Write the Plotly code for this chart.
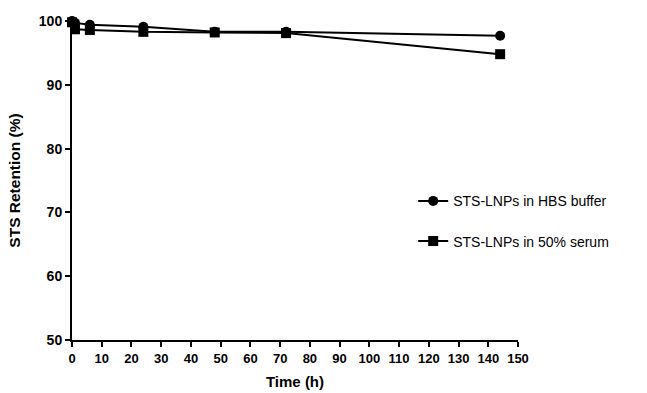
import plotly.graph_objects as go

time_h = [0, 1, 6, 24, 48, 72, 144]
hbs_buffer = [100.0, 99.7, 99.4, 99.1, 98.3, 98.3, 97.7]
serum_50 = [99.8, 98.7, 98.6, 98.3, 98.2, 98.1, 94.8]
x_ticks = list(range(0, 151, 10))
y_ticks = [50, 60, 70, 80, 90, 100]

fig = go.Figure()
fig.add_trace(go.Scatter(
    x=time_h, y=hbs_buffer, mode="lines+markers", name="STS-LNPs in HBS buffer",
    line=dict(color="black", width=2), marker=dict(symbol="circle", size=10, color="black"),
    cliponaxis=False, legendgroup="a"))
fig.add_trace(go.Scatter(
    x=time_h, y=serum_50, mode="lines+markers", name="STS-LNPs in 50% serum",
    line=dict(color="black", width=2), marker=dict(symbol="square", size=10, color="black"),
    cliponaxis=False, legendgroup="b"))

axis_common = dict(showline=True, linecolor="black", linewidth=2, ticks="outside",
                   ticklen=5, tickwidth=2, tickcolor="black", showgrid=False, zeroline=False,
                   automargin=False)

fig.update_layout(
    width=647, height=393,
    margin=dict(l=72, r=129, t=21, b=53),
    plot_bgcolor="white", paper_bgcolor="white",
    font=dict(family="Liberation Sans, Arial", color="black"),
    xaxis=dict(range=[0, 150], tickvals=x_ticks,
               tickfont=dict(size=13, color="black", weight="bold"),
               title=dict(text="<b>Time (h)</b>", font=dict(size=15), standoff=12),
               **axis_common),
    yaxis=dict(range=[50, 100], tickvals=y_ticks,
               tickfont=dict(size=14, color="black", weight="bold"),
               title=dict(text="<b>STS Retention (%)</b>", font=dict(size=15.5), standoff=14),
               **axis_common),
    legend=dict(x=0.765, y=0.485, xanchor="left", yanchor="top", tracegroupgap=19,
                font=dict(size=14, color="black"), bgcolor="rgba(0,0,0,0)"),
    showlegend=True,
)
fig.write_html("out.html")
